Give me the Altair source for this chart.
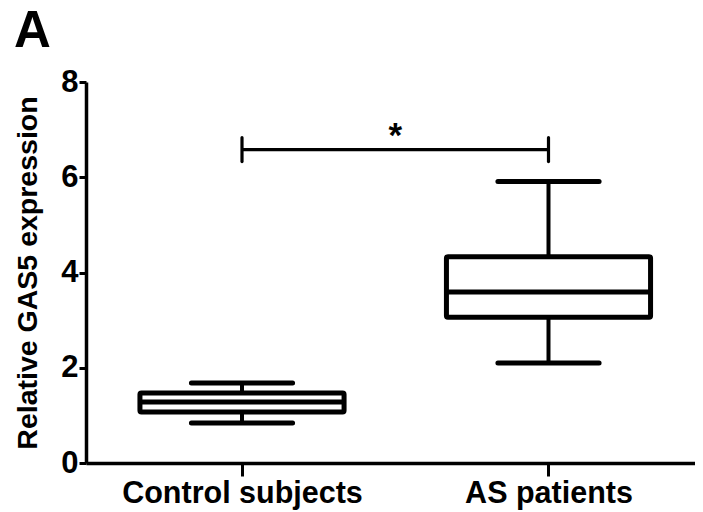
import altair as alt
import pandas as pd

# ---- data ----
categories = ["Control subjects", "AS patients"]
whisker_low = [0.84, 2.10]
q1 = [1.07, 3.06]
median = [1.28, 3.59]
q3 = [1.47, 4.33]
whisker_high = [1.68, 5.91]

y_ticks = [0, 2, 4, 6, 8]
bracket_y = [6.58]
bracket_tick_low = [6.33]
bracket_tick_high = [6.83]
star_y = [6.64]
star_label = ["*"]

# ---- build tables ----
BOX_HALF = 0.333
CAP_HALF = 0.165
pos = list(range(len(categories)))
df = pd.DataFrame(dict(pos=pos, cat=categories, lo=whisker_low, q1=q1,
                       med=median, q3=q3, hi=whisker_high))
df["bx0"] = df["pos"] - BOX_HALF
df["bx1"] = df["pos"] + BOX_HALF
df["cx0"] = df["pos"] - CAP_HALF
df["cx1"] = df["pos"] + CAP_HALF

br = pd.DataFrame(dict(x0=[pos[0]], x1=[pos[1]], y=bracket_y,
                       ylo=bracket_tick_low, yhi=bracket_tick_high,
                       xm=[(pos[0] + pos[1]) / 2], ys=star_y, lab=star_label))
br_ends = pd.DataFrame(dict(x=[pos[0], pos[1]], ylo=bracket_tick_low * 2,
                            yhi=bracket_tick_high * 2))

label_expr = " : ".join(
    [f"datum.value == {p} ? '{c}'" for p, c in zip(pos[:-1], categories[:-1])]
    + [f"'{categories[-1]}'"])

FONT = "Liberation Sans"
xscale = alt.Scale(domain=[-0.509, 1.478], nice=False, zero=False)
yscale = alt.Scale(domain=[0, 8], nice=False)

xaxis = alt.Axis(values=pos, labelExpr=label_expr, title=None, grid=False,
                 labelFont=FONT, labelFontSize=30.5, labelFontWeight="bold",
                 labelColor="black", tickColor="black", tickSize=13, tickWidth=3,
                 domainColor="black", domainWidth=3.5, labelPadding=2,
                 labelAngle=0, labelLimit=500, labelOverlap=False)
yaxis = alt.Axis(values=y_ticks, title="Relative GAS5 expression", grid=False,
                 labelFont=FONT, labelFontSize=31, labelFontWeight="bold",
                 labelColor="black", tickColor="black", tickSize=7, tickWidth=3,
                 domainColor="black", domainWidth=3.5, labelPadding=1,
                 titleFont=FONT, titleFontSize=28.5, titleFontWeight="bold",
                 titleColor="black", titleAngle=-90, titleX=-50, titleY=190.5,
                 titleAlign="center", titleBaseline="alphabetic")

base = alt.Chart(df)

box = base.mark_rect(fill="white", stroke="black", strokeWidth=5,
                     cornerRadius=1.5).encode(
    x=alt.X("bx0:Q", scale=xscale, axis=xaxis),
    x2="bx1:Q",
    y=alt.Y("q1:Q", scale=yscale, axis=yaxis),
    y2="q3:Q",
)
med = base.mark_rule(color="black", strokeWidth=5).encode(
    x="bx0:Q", x2="bx1:Q", y="med:Q")
wlo = base.mark_rule(color="black", strokeWidth=4).encode(
    x="pos:Q", y="lo:Q", y2="q1:Q")
whi = base.mark_rule(color="black", strokeWidth=4).encode(
    x="pos:Q", y="q3:Q", y2="hi:Q")
caplo = base.mark_rule(color="black", strokeWidth=5, strokeCap="round").encode(
    x="cx0:Q", x2="cx1:Q", y="lo:Q")
caphi = base.mark_rule(color="black", strokeWidth=5, strokeCap="round").encode(
    x="cx0:Q", x2="cx1:Q", y="hi:Q")

bline = alt.Chart(br).mark_rule(color="black", strokeWidth=3.2).encode(
    x="x0:Q", x2="x1:Q", y="y:Q")
bends = alt.Chart(br_ends).mark_rule(color="black", strokeWidth=3.2,
                                     strokeCap="round").encode(
    x="x:Q", y="ylo:Q", y2="yhi:Q")
star = alt.Chart(br).mark_text(font=FONT, fontSize=35, fontWeight="bold",
                               color="black", baseline="alphabetic",
                               align="center").encode(
    x="xm:Q", y="ys:Q", text="lab:N")

chart = alt.layer(box, wlo, whi, caplo, caphi, med, bline, bends, star).properties(
    width=609, height=381,
    padding={"left": 78, "top": 74, "right": 0, "bottom": 49},
    autosize=alt.AutoSizeParams(type="none"),
    title=alt.TitleParams(text="A", anchor="start", fontSize=51,
                          fontWeight="bold", font=FONT, color="black",
                          dx=1, dy=32, baseline="alphabetic", offset=0),
    background="white",
).configure_view(stroke=None)

chart.save("out.html", embed_options={"renderer": "svg", "actions": False})
